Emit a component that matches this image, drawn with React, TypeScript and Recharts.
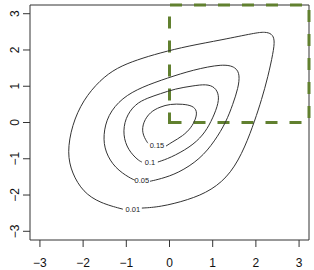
import React from 'react';
import { ComposedChart, Line, XAxis, YAxis, ReferenceArea, ReferenceDot } from 'recharts';

const X_TICKS = [-3, -2, -1, 0, 1, 2, 3];
const Y_TICKS = [-3, -2, -1, 0, 1, 2, 3];

// contour lines, each one open where its label sits
const LEVEL_001 = [
  { x: -0.64, y: -2.36 }, { x: -0.22, y: -2.33 }, { x: 0.43, y: -2.14 }, { x: 0.98, y: -1.87 },
  { x: 1.43, y: -1.4 }, { x: 1.75, y: -0.68 }, { x: 1.98, y: 0.07 }, { x: 2.13, y: 0.62 },
  { x: 2.28, y: 1.26 }, { x: 2.4, y: 1.92 }, { x: 2.44, y: 2.28 }, { x: 2.37, y: 2.45 },
  { x: 2.21, y: 2.5 }, { x: 1.98, y: 2.47 }, { x: 1.22, y: 2.28 }, { x: 0.43, y: 2.11 },
  { x: -0.22, y: 1.92 }, { x: -0.75, y: 1.73 }, { x: -1.22, y: 1.51 }, { x: -1.61, y: 1.17 },
  { x: -2.0, y: 0.62 }, { x: -2.26, y: -0.07 }, { x: -2.37, y: -0.84 }, { x: -2.26, y: -1.4 },
  { x: -2.0, y: -1.92 }, { x: -1.61, y: -2.22 }, { x: -1.08, y: -2.39 },
];

const LEVEL_005 = [
  { x: -0.45, y: -1.62 }, { x: -0.22, y: -1.56 }, { x: 0.2, y: -1.4 }, { x: 0.71, y: -1.01 },
  { x: 1.05, y: -0.51 }, { x: 1.31, y: 0.01 }, { x: 1.47, y: 0.51 }, { x: 1.59, y: 0.95 },
  { x: 1.63, y: 1.31 }, { x: 1.54, y: 1.53 }, { x: 1.24, y: 1.62 }, { x: 0.54, y: 1.45 },
  { x: -0.04, y: 1.23 }, { x: -0.64, y: 0.98 }, { x: -1.1, y: 0.68 }, { x: -1.43, y: 0.21 },
  { x: -1.54, y: -0.35 }, { x: -1.49, y: -0.82 }, { x: -1.26, y: -1.26 }, { x: -0.92, y: -1.53 },
  { x: -0.8, y: -1.59 },
];

const LEVEL_01 = [
  { x: -0.27, y: -1.09 }, { x: 0.01, y: -0.98 }, { x: 0.48, y: -0.68 }, { x: 0.78, y: -0.35 },
  { x: 0.96, y: 0.01 }, { x: 1.12, y: 0.46 }, { x: 1.15, y: 0.76 }, { x: 1.05, y: 0.98 },
  { x: 0.85, y: 1.06 }, { x: 0.54, y: 1.01 }, { x: 0.13, y: 0.93 }, { x: -0.22, y: 0.79 },
  { x: -0.5, y: 0.68 }, { x: -0.8, y: 0.51 }, { x: -1.03, y: 0.12 }, { x: -1.08, y: -0.35 },
  { x: -0.96, y: -0.76 }, { x: -0.73, y: -1.04 }, { x: -0.64, y: -1.09 },
];

const LEVEL_015 = [
  { x: -0.08, y: -0.65 }, { x: 0.06, y: -0.54 }, { x: 0.31, y: -0.37 }, { x: 0.5, y: -0.15 },
  { x: 0.61, y: 0.1 }, { x: 0.64, y: 0.32 }, { x: 0.54, y: 0.46 }, { x: 0.31, y: 0.51 },
  { x: 0.01, y: 0.51 }, { x: -0.22, y: 0.43 }, { x: -0.45, y: 0.29 }, { x: -0.61, y: 0.01 },
  { x: -0.64, y: -0.29 }, { x: -0.52, y: -0.54 }, { x: -0.5, y: -0.57 },
];

const LEVEL_LABELS = ['0.01', '0.05', '0.1', '0.15'];
const LABEL_X = [-0.85, -0.64, -0.45, -0.29];
const LABEL_Y = [-2.39, -1.59, -1.09, -0.62];

const CONTOURS = [LEVEL_001, LEVEL_005, LEVEL_01, LEVEL_015];

const FONT = '"Liberation Sans", Arial, Helvetica, sans-serif';
const GREEN = '#61802f';

const fmt = (v: number) => String(v).replace('-', '\u2212');

const YTick = (props: any) => {
  const { y, payload } = props;
  return (
    <text
      transform={`translate(19, ${y}) rotate(-90)`}
      textAnchor="middle"
      fontSize={12}
      fontFamily={FONT}
      fill="#111"
    >
      {fmt(payload.value)}
    </text>
  );
};

// R draws rect() starting from the bottom-left corner, so the dashes start there too
const DashedBox = (props: any) => {
  const { x, y, width, height } = props;
  return (
    <path
      d={`M${x},${y + height} h${width} v${-height} h${-width} Z`}
      fill="none"
      stroke={GREEN}
      strokeWidth={3}
      strokeDasharray="12 12"
    />
  );
};

export default function App() {
  return (
    <div style={{ position: 'absolute', left: 0, top: 0, background: '#fff' }}>
      <ComposedChart width={314} height={270} margin={{ top: 5, right: 5, bottom: 0, left: 0 }}>
        <XAxis
          dataKey="x"
          type="number"
          domain={[-3.23, 3.23]}
          ticks={X_TICKS}
          tickFormatter={fmt}
          allowDataOverflow
          axisLine={false}
          tickSize={7}
          tickMargin={11}
          height={30}
          tickLine={{ stroke: '#333' }}
          tick={{ fontSize: 12, fontFamily: FONT, fill: '#111' }}
        />
        <YAxis
          type="number"
          domain={[-3.24, 3.24]}
          ticks={Y_TICKS}
          allowDataOverflow
          axisLine={false}
          tickSize={7}
          width={30}
          tickLine={{ stroke: '#333' }}
          tick={<YTick />}
        />
        <ReferenceArea x1={-3.23} x2={3.23} y1={-3.24} y2={3.24} fill="none" stroke="#333" strokeWidth={1} />
        {CONTOURS.map((pts, i) => (
          <Line
            key={LEVEL_LABELS[i]}
            data={pts}
            dataKey="y"
            type="basis"
            stroke="#333"
            strokeWidth={1}
            dot={false}
            activeDot={false}
            isAnimationActive={false}
          />
        ))}
        {LEVEL_LABELS.map((lab, i) => (
          <ReferenceDot
            key={lab}
            x={LABEL_X[i]}
            y={LABEL_Y[i]}
            r={0}
            fill="none"
            stroke="none"
            label={{ value: lab, position: 'center', fontSize: 7.5, fontFamily: FONT, fill: '#222' }}
          />
        ))}
        <ReferenceArea x1={0} x2={3.23} y1={0} y2={3.24} shape={<DashedBox />} />
      </ComposedChart>
    </div>
  );
}
